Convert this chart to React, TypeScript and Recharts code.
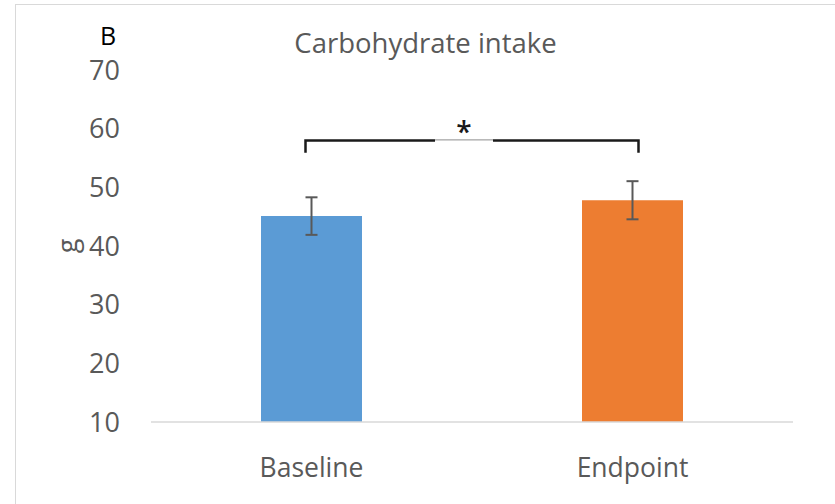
import { BarChart, Bar, XAxis, YAxis, Cell, ErrorBar, ReferenceLine } from "recharts";

// Carbohydrate intake (g), mean ± error, baseline vs endpoint
const CATEGORIES = ["Baseline", "Endpoint"];
const MEANS = [45.1, 47.8];
const ERRORS = [3.2, 3.25];
const COLORS = ["#5B9BD5", "#ED7D31"];
const Y_TICKS = [10, 20, 30, 40, 50, 60, 70];

// significance bracket height and tick depth (in g)
const BRACKET_Y = 58;
const BRACKET_DROP = 2.1;

const data = CATEGORIES.map((name, i) => ({ name, value: MEANS[i], err: ERRORS[i] }));

const FONT = "'Open Sans', sans-serif";
const GREY = "#595959";

// plot scale, used only to size the bracket ticks from the data value
const PLOT_TOP = 70;
const PLOT_BOTTOM = 421.7;
const pxPerUnit = (PLOT_BOTTOM - PLOT_TOP) / (Y_TICKS[Y_TICKS.length - 1] - Y_TICKS[0]);

function Bracket(props: any) {
  const { x1, x2, y1 } = props;
  const left = x1 - 6;
  const right = x2 + 6;
  const drop = BRACKET_DROP * pxPerUnit;
  const mid = (left + right) / 2 - 8;
  const gap = 29;
  return (
    <g>
      <path
        d={`M${left},${y1 + drop} L${left},${y1} L${mid - gap},${y1}`}
        fill="none"
        stroke="#1a1a1a"
        strokeWidth={2.5}
      />
      <path
        d={`M${mid + gap},${y1} L${right},${y1} L${right},${y1 + drop}`}
        fill="none"
        stroke="#1a1a1a"
        strokeWidth={2.5}
      />
      <line x1={mid - gap} x2={mid + gap} y1={y1 - 0.5} y2={y1 - 0.5} stroke="#8c8c8c" strokeWidth={1} />
      <text x={mid} y={y1 + 2} textAnchor="middle" fontFamily={FONT} fontSize={28} fontWeight={600} fill="#1a1a1a">
        *
      </text>
    </g>
  );
}

export default function App() {
  return (
    <div style={{ position: "absolute", left: 0, top: 0, width: 835, height: 504, background: "#fff", overflow: "hidden" }}>
      <div
        style={{
          position: "absolute",
          left: 15,
          top: 4,
          width: 830,
          height: 510,
          borderTop: "1.5px solid #d9d9d9",
          borderLeft: "1.5px solid #d9d9d9",
        }}
      />
      <BarChart
        width={835}
        height={504}
        data={data}
        margin={{ top: 70, right: 42, bottom: 22, left: 51 }}
        style={{ position: "absolute", left: 0, top: 0 }}
      >
        <XAxis
          dataKey="name"
          height={60}
          tickLine={false}
          tickSize={0}
          tickMargin={36}
          axisLine={{ stroke: "#d9d9d9", strokeWidth: 1.5 }}
          tick={{ fill: GREY, fontSize: 26.5, fontFamily: FONT }}
        />
        <YAxis
          width={100}
          domain={[10, 70]}
          ticks={Y_TICKS}
          axisLine={false}
          tickLine={false}
          tickSize={0}
          tickMargin={31}
          tick={{ fill: GREY, fontSize: 27, fontFamily: FONT }}
          label={{
            content: ({ viewBox }: any) => (
              <text
                x={viewBox.x + 15}
                y={viewBox.y + viewBox.height / 2}
                transform={`rotate(-90 ${viewBox.x + 15} ${viewBox.y + viewBox.height / 2})`}
                textAnchor="middle"
                dominantBaseline="central"
                fontFamily={FONT}
                fontSize={27}
                fill={GREY}
              >
                g
              </text>
            ),
          }}
        />
        <Bar dataKey="value" barSize={101} isAnimationActive={false}>
          {data.map((d, i) => (
            <Cell key={d.name} fill={COLORS[i]} />
          ))}
          <ErrorBar dataKey="err" width={6} stroke={GREY} strokeWidth={2} direction="y" />
        </Bar>
        <ReferenceLine
          segment={[
            { x: CATEGORIES[0], y: BRACKET_Y },
            { x: CATEGORIES[1], y: BRACKET_Y },
          ]}
          shape={<Bracket />}
        />
      </BarChart>
      <svg width={835} height={504} style={{ position: "absolute", left: 0, top: 0, pointerEvents: "none" }}>
        <text x={108} y={45} textAnchor="middle" fontFamily={FONT} fontSize={25} fill="#000">
          B
        </text>
        <text x={425.5} y={53} textAnchor="middle" fontFamily={FONT} fontSize={27.5} fill={GREY}>
          Carbohydrate intake
        </text>
      </svg>
    </div>
  );
}
